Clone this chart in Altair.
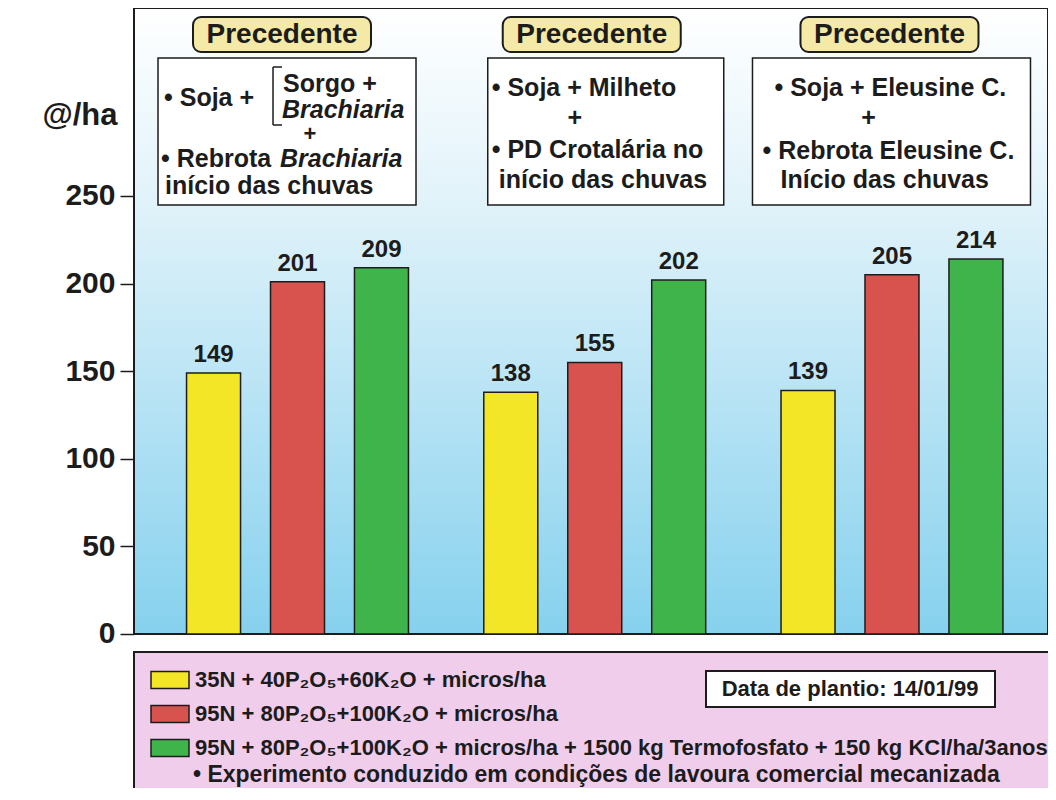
import altair as alt
import pandas as pd

# ---------------- data ----------------
groups = ["Soja + Sorgo/Brachiaria", "Soja + Milheto", "Soja + Eleusine C."]
series = [
    "35N + 40P₂O₅+60K₂O + micros/ha",
    "95N + 80P₂O₅+100K₂O + micros/ha",
    "95N + 80P₂O₅+100K₂O + micros/ha + 1500 kg Termofosfato + 150 kg KCl/ha/3anos",
]
yield_s1 = [149, 138, 139]
yield_s2 = [201, 155, 205]
yield_s3 = [209, 202, 214]
y_ticks = [0, 50, 100, 150, 200, 250]
colors = ["#f3e626", "#d9534e", "#3fb44b"]

rows = []
for vals, s in zip([yield_s1, yield_s2, yield_s3], series):
    for g, v in zip(groups, vals):
        rows.append({"group": g, "series": s, "value": v})
df = pd.DataFrame(rows)

# ---------------- layout constants ----------------
W, H = 914, 780
Y_TOP, Y_BOT = 357.3, -87.9
FONT = "Liberation Sans"
INK = "#1c1c1c"
SHIFT = [-1.5, -3, -4.5]

xscale = alt.Scale(domain=groups, paddingInner=0.15, paddingOuter=0.1125, align=0.556)
yscale = alt.Scale(domain=[Y_BOT, Y_TOP], nice=False, zero=False)
X = alt.X("group:N", scale=xscale, axis=None)
XOFF = alt.XOffset("series:N", sort=series,
                   scale=alt.Scale(paddingInner=0.357, paddingOuter=0.183))

base = alt.Chart(df)
one = alt.Chart(pd.DataFrame({"a": [0]}))

bg = one.mark_rect(
    fill=alt.Gradient(
        gradient="linear",
        stops=[
            alt.GradientStop(color="#ffffff", offset=0),
            alt.GradientStop(color="#e2f3fa", offset=0.3),
            alt.GradientStop(color="#86d1ee", offset=1),
        ],
        x1=0, x2=0, y1=0, y2=1,
    )
).encode(x=alt.value(0), x2=alt.value(W),
         y=alt.Y(datum=Y_TOP, scale=yscale), y2=alt.datum(0))

frame = one.mark_rect(fill="white", fillOpacity=0, stroke=INK, strokeWidth=2).encode(
    x=alt.value(0), x2=alt.value(W),
    y=alt.Y(datum=Y_TOP, scale=yscale), y2=alt.datum(0))

bars = base.mark_bar(stroke=INK, strokeWidth=1.5, opacity=1).encode(
    x=X,
    xOffset=XOFF,
    y=alt.Y("value:Q", scale=yscale,
            axis=alt.Axis(values=y_ticks, domain=False, grid=False, tickSize=14,
                          tickWidth=1.5, tickColor=INK, labelFont=FONT,
                          labelFontSize=30, labelFontWeight="bold", labelColor=INK,
                          labelPadding=5, title="@/ha", titleAngle=0,
                          titleAlign="right", titleBaseline="middle", titleX=-17,
                          titleY=107, titleFont=FONT, titleFontSize=31,
                          titleFontWeight="bold", titleColor=INK)),
    color=alt.Color("series:N", scale=alt.Scale(domain=series, range=colors),
                    legend=alt.Legend(orient="none", legendX=25, legendY=661,
                                      title=None, direction="vertical",
                                      labelFont=FONT, labelFontSize=22,
                                      labelFontWeight="bold", labelColor=INK,
                                      labelLimit=1500,
                                      symbolType="M-1.9,-0.85L1.9,-0.85L1.9,0.85L-1.9,0.85Z",
                                      symbolSize=400, symbolStrokeColor=INK,
                                      symbolStrokeWidth=1.5, symbolOpacity=1,
                                      labelOffset=14, rowPadding=10, padding=0)),
)

labels = base.mark_text(font=FONT, fontSize=24, fontWeight="bold", color=INK,
                        baseline="bottom", dy=-6).encode(
    x=X,
    xOffset=XOFF,
    y=alt.Y("value:Q", scale=yscale),
    text="value:Q",
)

# ---------------- group annotations ----------------
box_w = [258, 236, 278]
box_dx = [-9, 14, 4]
prec_dx = [-14, 0, 2]
box_texts = [
    [("• Soja +", -132, 90, "normal", "left", 25),
     ("Sorgo +", -13, 76, "normal", "left", 25),
     ("Brachiaria", -14, 102, "italic", "left", 25),
     ("+", 14, 126, "normal", "center", 22),
     ("• Rebrota", -135, 151, "normal", "left", 25),
     ("Brachiaria", -16, 151, "italic", "left", 25),
     ("início das chuvas", -131, 178, "normal", "left", 25)],
    [("• Soja + Milheto", -100, 80, "normal", "left", 25),
     ("+", -17, 110, "normal", "center", 25),
     ("• PD Crotalária no", -100, 142, "normal", "left", 25),
     ("início das chuvas", -93, 172, "normal", "left", 25)],
    [("• Soja + Eleusine C.", -113, 80, "normal", "left", 25),
     ("+", -19, 110, "normal", "center", 25),
     ("• Rebrota Eleusine C.", -125, 143, "normal", "left", 25),
     ("Início das chuvas", -107, 172, "normal", "left", 25)],
]

ann = []
for i, g in enumerate(groups):
    gd = alt.Chart(pd.DataFrame({"group": [g]}))
    s = SHIFT[i]
    ann.append(gd.mark_bar(width=box_w[i], xOffset=box_dx[i] + s, fill="white",
                           stroke=INK, strokeWidth=1.5, opacity=1)
               .encode(x=X, y=alt.value(50), y2=alt.value(197)))
    ann.append(gd.mark_bar(width=178, xOffset=prec_dx[i] + s, fill="#f4e9a6",
                           stroke=INK, strokeWidth=2, cornerRadius=8, opacity=1)
               .encode(x=X, y=alt.value(9), y2=alt.value(44)))
    ann.append(gd.mark_text(text="Precedente", dx=prec_dx[i] + s, font=FONT,
                            fontSize=28, fontWeight="bold", color=INK,
                            baseline="middle")
               .encode(x=X, y=alt.value(27)))
    for (t, dx, py, style, al, fs) in box_texts[i]:
        ann.append(gd.mark_text(text=t, dx=dx + s, align=al, baseline="middle",
                                font=FONT, fontSize=fs, fontWeight="bold",
                                fontStyle=style, color=INK)
                   .encode(x=X, y=alt.value(py)))

# bracket in first box
g0 = alt.Chart(pd.DataFrame({"group": [groups[0]]}))
s0 = SHIFT[0]
ann.append(g0.mark_rule(xOffset=-23 + s0, color=INK, strokeWidth=1.5)
           .encode(x=X, y=alt.value(59), y2=alt.value(117)))
ann.append(g0.mark_rule(xOffset=-23 + s0, x2Offset=-14 + s0, color=INK,
                        strokeWidth=1.5)
           .encode(x=X, x2=alt.X2("group:N"), y=alt.value(59)))
ann.append(g0.mark_rule(xOffset=-23 + s0, x2Offset=-14 + s0, color=INK,
                        strokeWidth=1.5)
           .encode(x=X, x2=alt.X2("group:N"), y=alt.value(117)))

# ---------------- legend panel ----------------
panel = one.mark_rect(fill="#f1cdec", stroke=INK, strokeWidth=2).encode(
    x=alt.value(0), x2=alt.value(W + 20), y=alt.value(644), y2=alt.value(H + 20))
datebox = one.mark_rect(fill="white", stroke=INK, strokeWidth=2).encode(
    x=alt.value(572), x2=alt.value(861), y=alt.value(663), y2=alt.value(699))
datetext = one.mark_text(text="Data de plantio: 14/01/99", font=FONT, fontSize=22,
                         fontWeight="bold", color=INK, baseline="middle").encode(
    x=alt.value(716), y=alt.value(681))
note = one.mark_text(text="• Experimento conduzido em condições de lavoura comercial mecanizada",
                     font=FONT, fontSize=23, fontWeight="bold", color=INK,
                     align="left", baseline="middle").encode(
    x=alt.value(59), y=alt.value(767))

chart = alt.layer(bg, frame, *ann, bars, labels, panel, datebox, datetext, note).properties(
    width=W, height=H,
    autosize=alt.AutoSizeParams(type="none"),
    padding={"left": 126, "top": 0, "right": 0, "bottom": 0},
).configure_view(stroke=None)

chart.save("out.html", embed_options={"renderer": "svg", "actions": False})
